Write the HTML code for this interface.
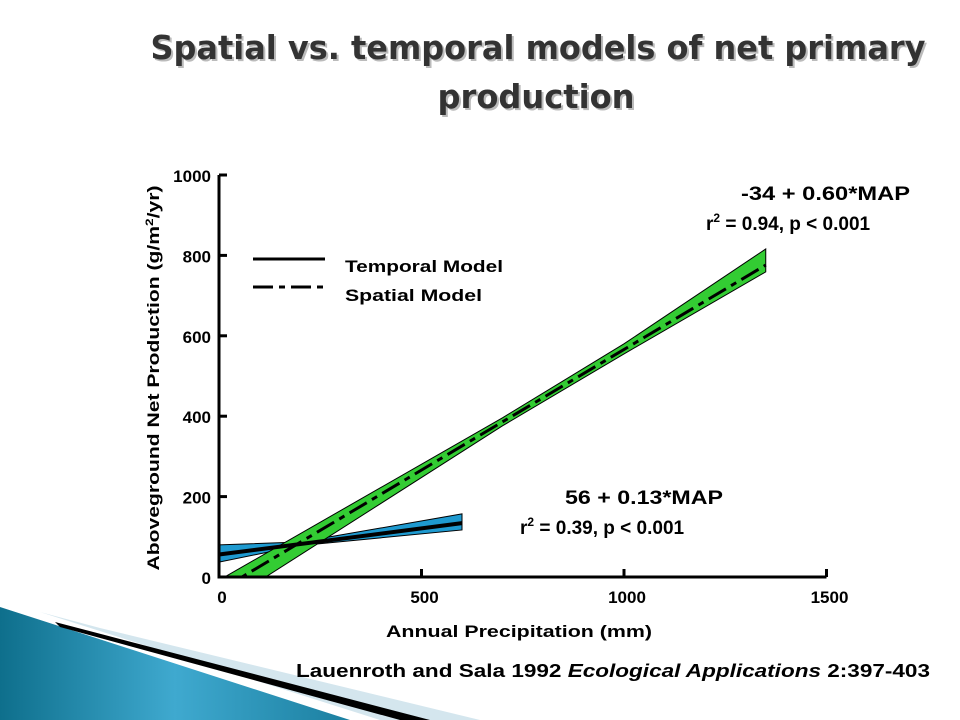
<!DOCTYPE html>
<html><head><meta charset="utf-8"><style>
body{margin:0;background:#fff;}
svg{display:block;font-family:"Liberation Sans",sans-serif;}
</style></head><body>
<svg width="960" height="720" viewBox="0 0 960 720">
<defs>
<linearGradient id="bg" x1="0" y1="0" x2="1" y2="0">
<stop offset="0" stop-color="#0e6f8c"/><stop offset="0.5" stop-color="#3fa9cf"/><stop offset="1" stop-color="#1b7fa0"/>
</linearGradient>
<clipPath id="plot"><rect x="219" y="150" width="700" height="427"/></clipPath>
</defs>
<g>
<polygon points="40,612 100,628 480,720 380,720" fill="#d4e6ee"/>
<polygon points="0,607 0,720 350,720" fill="url(#bg)"/>
<polygon points="55,622 430,720 400,720 60,627" fill="#000"/>
</g>
<g font-family="DejaVu Sans, Liberation Sans, sans-serif" font-size="33" font-weight="bold" text-anchor="middle">
<g fill="#bbb" transform="translate(2,2)">
<text x="538" y="59" textLength="775" lengthAdjust="spacingAndGlyphs">Spatial vs. temporal models of net primary</text>
<text x="536" y="108" textLength="197" lengthAdjust="spacingAndGlyphs">production</text>
</g>
<g fill="#333">
<text x="538" y="59" textLength="775" lengthAdjust="spacingAndGlyphs">Spatial vs. temporal models of net primary</text>
<text x="536" y="108" textLength="197" lengthAdjust="spacingAndGlyphs">production</text>
</g>
</g>
<g id="chart"></g>
<g font-weight="bold" font-size="17" fill="#000">
<text x="345" y="272" textLength="158" lengthAdjust="spacingAndGlyphs">Temporal Model</text>
<text x="345" y="301" textLength="137" lengthAdjust="spacingAndGlyphs">Spatial Model</text>
<text x="741" y="200" textLength="169" lengthAdjust="spacingAndGlyphs" font-size="19">-34 + 0.60*MAP</text>
<text x="706" y="230" font-size="19">r<tspan font-size="12" dy="-8">2</tspan><tspan dy="8"> = 0.94, p &lt; 0.001</tspan></text>
<text x="565" y="504" textLength="158" lengthAdjust="spacingAndGlyphs" font-size="19">56 + 0.13*MAP</text>
<text x="520" y="534" font-size="19">r<tspan font-size="12" dy="-8">2</tspan><tspan dy="8"> = 0.39, p &lt; 0.001</tspan></text>
<text x="386" y="637" textLength="266" lengthAdjust="spacingAndGlyphs">Annual Precipitation (mm)</text>
<text transform="translate(159,378) rotate(-90)" text-anchor="middle" textLength="385" lengthAdjust="spacingAndGlyphs">Aboveground Net Production (g/m<tspan font-size="11" dy="-6">2</tspan><tspan dy="6">/yr)</tspan></text>
<text x="296" y="677" textLength="634" lengthAdjust="spacingAndGlyphs" font-size="18">Lauenroth and Sala 1992 <tspan font-style="italic">Ecological Applications</tspan> 2:397-403</text>
</g>
<g stroke="#000" stroke-width="3">
<line x1="253" y1="259" x2="325" y2="259"/>
<line x1="253" y1="287" x2="325" y2="287" stroke-dasharray="20,6,6,6"/>
</g>
</svg>
<script>
const xTicks=[0,500,1000,1500];
const yTicks=[0,200,400,600,800,1000];
const tempBandMap=[0,200,600];
const tempUpper=[80,87,157];
const tempLower=[37,78,117];
const tempLine=[[0,56],[600,134]];
const spatBandMap=[0,700,1000,1350];
const spatUpper=[-8,396,580,816];
const spatLower=[-74,376,555,759];
const spatLine=[[0,-34],[1350,776]];
const NS="http://www.w3.org/2000/svg";
const X=v=>219+v*0.405, Y=v=>577-v*0.402;
const g=document.getElementById('chart');
function mk(t,a){const e=document.createElementNS(NS,t);for(const k in a)e.setAttribute(k,a[k]);g.appendChild(e);return e;}
function band(m,u,l,fill,name){
 const pts=m.map((v,i)=>X(v)+","+Y(u[i])).concat(m.map((v,i)=>X(v)+","+Y(l[i])).reverse()).join(" ");
 const p=mk('polygon',{points:pts,fill:fill,stroke:'#000','stroke-width':1,'clip-path':'url(#plot)'});
 
 
}
band(tempBandMap,tempUpper,tempLower,'#1e9ad0','temporal-band');
band(spatBandMap,spatUpper,spatLower,'#33cc33','spatial-band');
let l1=mk('line',{x1:X(tempLine[0][0]),y1:Y(tempLine[0][1]),x2:X(tempLine[1][0]),y2:Y(tempLine[1][1]),stroke:'#000','stroke-width':4});


let l2=mk('line',{x1:X(spatLine[0][0]),y1:Y(spatLine[0][1]),x2:X(spatLine[1][0]),y2:Y(spatLine[1][1]),stroke:'#000','stroke-width':3,'stroke-dasharray':'20,6,6,6','clip-path':'url(#plot)'});


let ax=mk('polyline',{points:`219,175 219,577 ${X(1500)},577`,fill:'none',stroke:'#000','stroke-width':3});


xTicks.forEach(v=>{
 const t=mk('line',{x1:X(v),y1:577,x2:X(v),y2:569,stroke:'#000','stroke-width':3});
 
 
 const tx=mk('text',{x:X(v)+3,y:603,'text-anchor':'middle','font-size':17,'font-weight':'bold'});
 tx.textContent=v;
 
 
});
yTicks.forEach(v=>{
 const t=mk('line',{x1:219,y1:Y(v),x2:227,y2:Y(v),stroke:'#000','stroke-width':3});
 
 
 const tx=mk('text',{x:211,y:Y(v)+7,'text-anchor':'end','font-size':17,'font-weight':'bold'});
 tx.textContent=v;
 
 
});
</script>
</body></html>
